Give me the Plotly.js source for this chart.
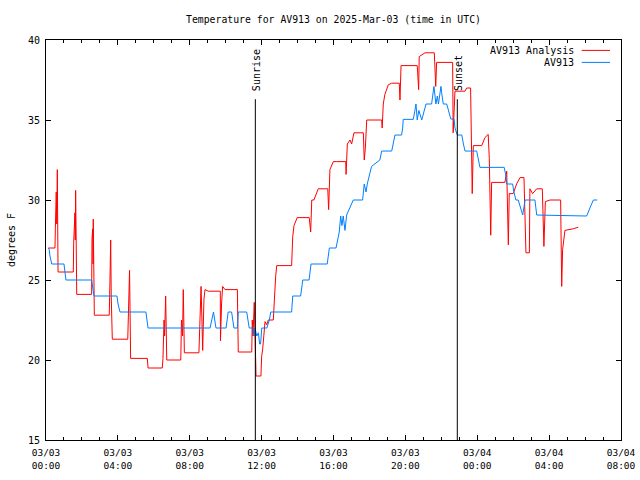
<!DOCTYPE html>
<html>
<head>
<meta charset="utf-8">
<script src="https://cdn.plot.ly/plotly-3.0.1.min.js"></script>
<style>html,body{margin:0;padding:0;background:#fff;}#chart{width:640px;height:480px;}</style>
</head>
<body>
<div id="chart"></div>
<script>
// Hours after 2025-03-03 00:00 UTC, and temperatures (degrees F)
const analysisHours = [0.13,0.50,0.52,0.57,0.60,0.63,0.67,1.52,1.54,1.61,1.63,1.65,1.71,2.54,2.56,2.60,2.62,2.63,2.69,3.52,3.56,3.60,3.63,3.69,4.55,4.60,4.65,4.71,5.64,5.68,6.47,6.51,6.57,6.60,6.66,6.72,7.50,7.54,7.60,7.64,7.70,8.51,8.57,8.63,8.72,8.79,8.85,9.03,9.70,9.71,9.77,9.83,9.96,10.65,10.70,11.45,11.48,11.52,11.59,11.69,11.96,12.00,12.06,12.13,12.19,12.28,12.37,12.65,12.70,12.78,12.84,13.67,13.73,13.80,13.98,14.65,14.73,14.79,14.91,15.06,15.15,15.68,15.73,15.80,15.99,16.18,16.68,16.70,16.77,16.92,17.01,17.14,17.66,17.71,17.77,17.85,18.68,18.71,18.77,18.86,19.05,19.24,19.66,19.70,19.76,20.66,20.68,20.74,20.77,20.91,21.09,21.61,21.69,21.74,22.63,22.66,22.76,23.32,23.41,23.63,23.69,23.72,23.78,24.25,24.43,24.61,24.67,24.71,24.75,24.80,25.54,25.64,25.69,25.73,25.78,26.00,26.19,26.38,26.60,26.66,26.71,26.90,26.93,27.08,27.31,27.62,27.67,27.71,27.79,28.05,28.64,28.66,28.70,28.75,28.83,28.88,29.34,29.62];
const analysisTemps = [27.0,27.0,28.2,30.5,28.5,31.9,25.5,25.5,27.3,29.2,27.5,30.6,24.1,24.1,27.6,28.2,26.0,28.8,22.8,22.8,25.0,27.5,24.0,21.3,21.3,24.5,25.6,20.1,20.1,19.5,19.5,20.1,22.5,21.5,24.0,20.0,20.0,22.5,21.5,24.4,20.45,20.45,23.0,24.6,20.6,23.8,24.4,24.3,24.3,21.2,23.5,24.6,24.4,24.4,20.5,20.5,22.5,21.5,23.6,19.0,19.0,20.2,20.7,21.7,22.4,22.2,22.5,22.5,23.85,25.2,25.9,25.9,27.7,28.4,28.9,28.9,28.0,30.0,30.0,30.4,30.7,30.7,29.4,31.9,32.4,32.4,32.4,31.6,33.5,33.75,33.5,34.2,34.2,32.5,33.2,35.0,35.0,34.5,36.0,36.6,37.2,37.3,37.3,36.25,38.4,38.4,37.9,36.9,38.96,39.06,39.2,39.2,37.1,38.6,38.6,34.2,36.8,36.8,37.0,37.0,32.1,30.4,33.4,33.4,33.9,34.1,32.6,29.4,27.8,31.1,31.1,31.8,29.5,27.2,30.4,30.4,31.0,31.4,31.4,28.4,26.7,26.7,30.7,30.4,30.7,30.7,28.75,27.1,29.9,30.0,30.0,27.3,24.6,26.9,27.8,28.1,28.2,28.3];

const obsHours = [0.13,0.18,0.22,0.32,1.00,1.06,1.11,2.54,2.59,2.67,3.95,4.01,4.12,5.56,5.62,5.68,9.13,9.28,9.32,9.46,10.02,10.14,10.33,10.46,10.65,10.70,11.17,11.31,11.54,11.58,11.63,11.73,11.82,11.89,11.94,12.01,12.29,12.43,12.51,13.67,13.73,14.17,14.23,14.29,14.64,14.69,14.75,15.65,15.71,15.77,16.14,16.21,16.32,16.40,16.47,16.54,16.64,16.73,16.92,17.10,17.62,17.71,17.81,17.88,18.03,18.12,18.58,18.68,19.24,19.33,19.42,19.79,19.85,19.88,20.44,20.53,20.59,20.66,20.75,20.91,21.04,21.15,21.46,21.59,21.70,21.78,21.84,21.98,22.02,22.11,22.30,22.43,22.53,22.71,22.76,22.89,23.14,23.23,23.32,23.97,24.06,24.15,25.50,25.58,25.64,25.97,26.04,26.15,26.28,26.38,26.53,26.66,27.21,27.31,30.09,30.27,30.46,30.68];
const obsTemps = [27.0,26.9,26.5,26.0,26.0,25.5,25.0,25.0,24.5,24.0,24.0,23.5,23.0,23.0,22.5,22.0,22.0,23.0,23.0,22.0,22.0,23.0,23.0,22.0,22.0,23.0,23.0,22.0,22.0,21.5,22.0,21.5,21.7,21.0,21.0,22.0,22.0,22.5,23.0,23.0,24.0,24.0,24.4,25.0,25.0,25.5,26.0,26.0,26.5,27.0,27.0,27.5,28.0,29.0,28.4,29.0,28.1,29.06,29.6,30.0,30.0,31.0,30.5,31.0,31.7,32.1,32.5,33.06,33.06,33.5,34.06,34.06,34.5,35.04,35.04,35.6,36.0,35.0,35.6,35.0,35.6,36.0,36.0,37.1,36.0,36.5,36.0,37.1,36.7,36.0,36.0,35.4,35.06,35.06,34.5,34.06,34.06,33.5,33.06,33.06,32.6,32.04,32.04,31.6,31.0,31.0,30.5,30.0,30.0,29.6,29.06,30.0,30.0,29.06,29.0,29.5,30.0,30.0];

const sunEventHours = [11.65, 22.89];
const sunEventLabels = ["Sunrise", "Sunset"];
const tickHours = [0,4,8,12,16,20,24,28,32];
const tickLabels = ["03/03<br>00:00","03/03<br>04:00","03/03<br>08:00","03/03<br>12:00","03/03<br>16:00","03/03<br>20:00","03/04<br>00:00","03/04<br>04:00","03/04<br>08:00"];
const seriesNames = ["AV913 Analysis", "AV913"];
const seriesColors = ["#ff0000", "#0080ff"];

const T0 = Date.UTC(2025, 2, 3);
function toDate(h) {
  return new Date(T0 + Math.round(h * 3600000)).toISOString().slice(0, 19).replace('T', ' ');
}

const FONT = "DejaVu Sans Mono, monospace";

const traces = [
  {x: analysisHours.map(toDate), y: analysisTemps, type: 'scatter', mode: 'lines',
   line: {color: seriesColors[0], width: 1}, name: seriesNames[0]},
  {x: obsHours.map(toDate), y: obsTemps, type: 'scatter', mode: 'lines',
   line: {color: seriesColors[1], width: 1}, name: seriesNames[1]}
];

const shapes = sunEventHours.map(h => ({
  type: 'line', xref: 'x', yref: 'y', x0: toDate(h), x1: toDate(h), y0: 15, y1: 36.3,
  line: {color: '#000', width: 1}
}));

const legendY = [0.974, 0.944];
seriesNames.forEach((n, i) => {
  shapes.push({type: 'line', xref: 'paper', yref: 'paper', x0: 0.9317, x1: 0.9809,
    y0: legendY[i], y1: legendY[i], line: {color: seriesColors[i], width: 1}});
});

const annotations = sunEventHours.map((h, i) => ({
  x: toDate(h), y: 36.7, xref: 'x', yref: 'y', text: sunEventLabels[i], showarrow: false,
  textangle: -90, xanchor: 'center', yanchor: 'bottom', xshift: 1,
  font: {family: FONT, size: 10, color: '#000'}
}));
seriesNames.forEach((n, i) => {
  annotations.push({x: 0.9183, y: legendY[i], xref: 'paper', yref: 'paper', text: n,
    showarrow: false, xanchor: 'right', yanchor: 'middle', xshift: 2,
    font: {family: FONT, size: 10, color: '#000'}});
});

const layout = {
  width: 640, height: 480,
  margin: {l: 46, r: 19, t: 40, b: 40},
  paper_bgcolor: '#fff', plot_bgcolor: '#fff',
  showlegend: false,
  font: {family: FONT, size: 10, color: '#000'},
  title: {text: 'Temperature for AV913 on 2025-Mar-03 (time in UTC)', x: 0.5, xref: 'paper',
    y: 1 - 20 / 480, yref: 'container', yanchor: 'middle', xanchor: 'center',
    font: {family: FONT, size: 9.8, color: '#000'}},
  xaxis: {
    type: 'date', range: [toDate(0), toDate(32)],
    tickmode: 'array', tickvals: tickHours.map(toDate), ticktext: tickLabels,
    ticks: 'inside', ticklen: 5, tickcolor: '#000', tickwidth: 1,
    minor: {tickmode: 'linear', tick0: toDate(0), dtick: 3600000, ticks: 'inside', ticklen: 3, tickcolor: '#000', tickwidth: 1},
    showline: true, linecolor: '#000', linewidth: 1, mirror: 'ticks',
    showgrid: false, zeroline: false, fixedrange: true, ticklabelstandoff: 4,
    tickfont: {family: FONT, size: 9.5, color: '#000'}
  },
  yaxis: {
    range: [15, 40], tickmode: 'linear', tick0: 15, dtick: 5,
    ticks: 'inside', ticklen: 5, tickcolor: '#000', tickwidth: 1,
    showline: true, linecolor: '#000', linewidth: 1, mirror: 'ticks',
    showgrid: false, zeroline: false, fixedrange: true, ticklabelstandoff: 3,
    tickfont: {family: FONT, size: 10, color: '#000'},
    title: {text: 'degrees F', standoff: 10, font: {family: FONT, size: 10, color: '#000'}}
  },
  shapes: shapes,
  annotations: annotations
};

Plotly.newPlot('chart', traces, layout, {staticPlot: true, displayModeBar: false});
</script>
</body>
</html>
